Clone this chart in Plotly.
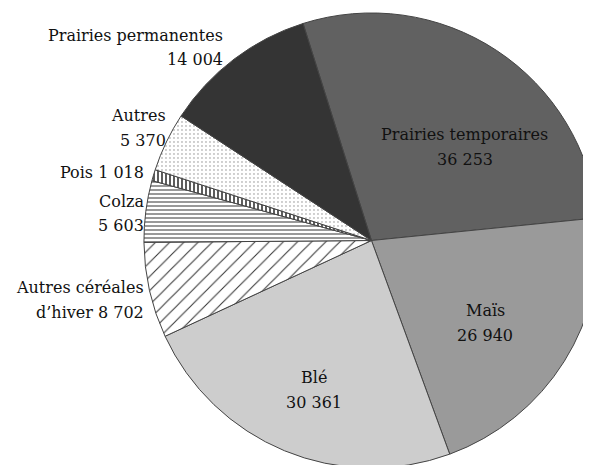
import plotly.graph_objects as go

# surfaces par culture (ordre horaire, depuis le haut)
cultures = ["Prairies temporaires", "Maïs", "Blé", "Autres céréales d’hiver",
            "Colza", "Pois", "Autres", "Prairies permanentes"]
surfaces = [36253, 26940, 30361, 8702, 5603, 1018, 5370, 14004]

couleurs = ["#616161", "#9a9a9a", "#cdcdcd", "white", "white", "white", "white", "#343434"]
motifs = ["", "", "", "/", "-", "|", ".", ""]


def fmt(v):
    return f"{v:,}".replace(",", " ")


fig = go.Figure(go.Pie(
    labels=cultures, values=surfaces, sort=False, direction="clockwise",
    rotation=-17.5, textinfo="none", hoverinfo="label+value",
    domain=dict(x=[0.23, 1.0], y=[0.0, 1.0]),
    marker=dict(colors=couleurs, line=dict(color="#444444", width=1),
                pattern=dict(shape=motifs, bgcolor="white",
                             fgcolor=["#333"] * 6 + ["#888"] + ["#333"],
                             size=[8, 8, 8, 10, 4, 4, 4, 8],
                             solidity=[0.2, 0.2, 0.2, 0.1, 0.25, 0.4, 0.1, 0.2])),
    showlegend=False,
))

# étiquettes, une ligne par annotation (texte construit à partir des données)
lignes = [
    [cultures[0], fmt(surfaces[0])],
    [cultures[1], fmt(surfaces[1])],
    [cultures[2], fmt(surfaces[2])],
    ["Autres céréales", "d’hiver " + fmt(surfaces[3])],
    [cultures[4], fmt(surfaces[4])],
    [f"{cultures[5]} {fmt(surfaces[5])}"],
    [cultures[6], fmt(surfaces[6])],
    [cultures[7], fmt(surfaces[7])],
]
# (x, y de la première ligne en pixels depuis le haut, ancrage)
places = [(457, 126, "center"), (477, 302, "center"), (306, 369, "center"),
          (138, 279, "right"), (138, 193, "right"), (138, 164, "right"),
          (160, 107, "right"), (217, 27, "right")]
interligne = 25

W, H = 591, 465
for txt, (x, y, a) in zip(lignes, places):
    for i, t in enumerate(txt):
        fig.add_annotation(x=x / W, y=1 - (y + i * interligne) / H,
                           xref="paper", yref="paper", text=t, showarrow=False,
                           xanchor=a, yanchor="middle", align=a,
                           font=dict(family="DejaVu Serif", size=16, color="#111111"))

fig.update_layout(width=W, height=H, margin=dict(l=0, r=0, t=0, b=0),
                  paper_bgcolor="white", plot_bgcolor="white")
fig.write_html("out.html")
